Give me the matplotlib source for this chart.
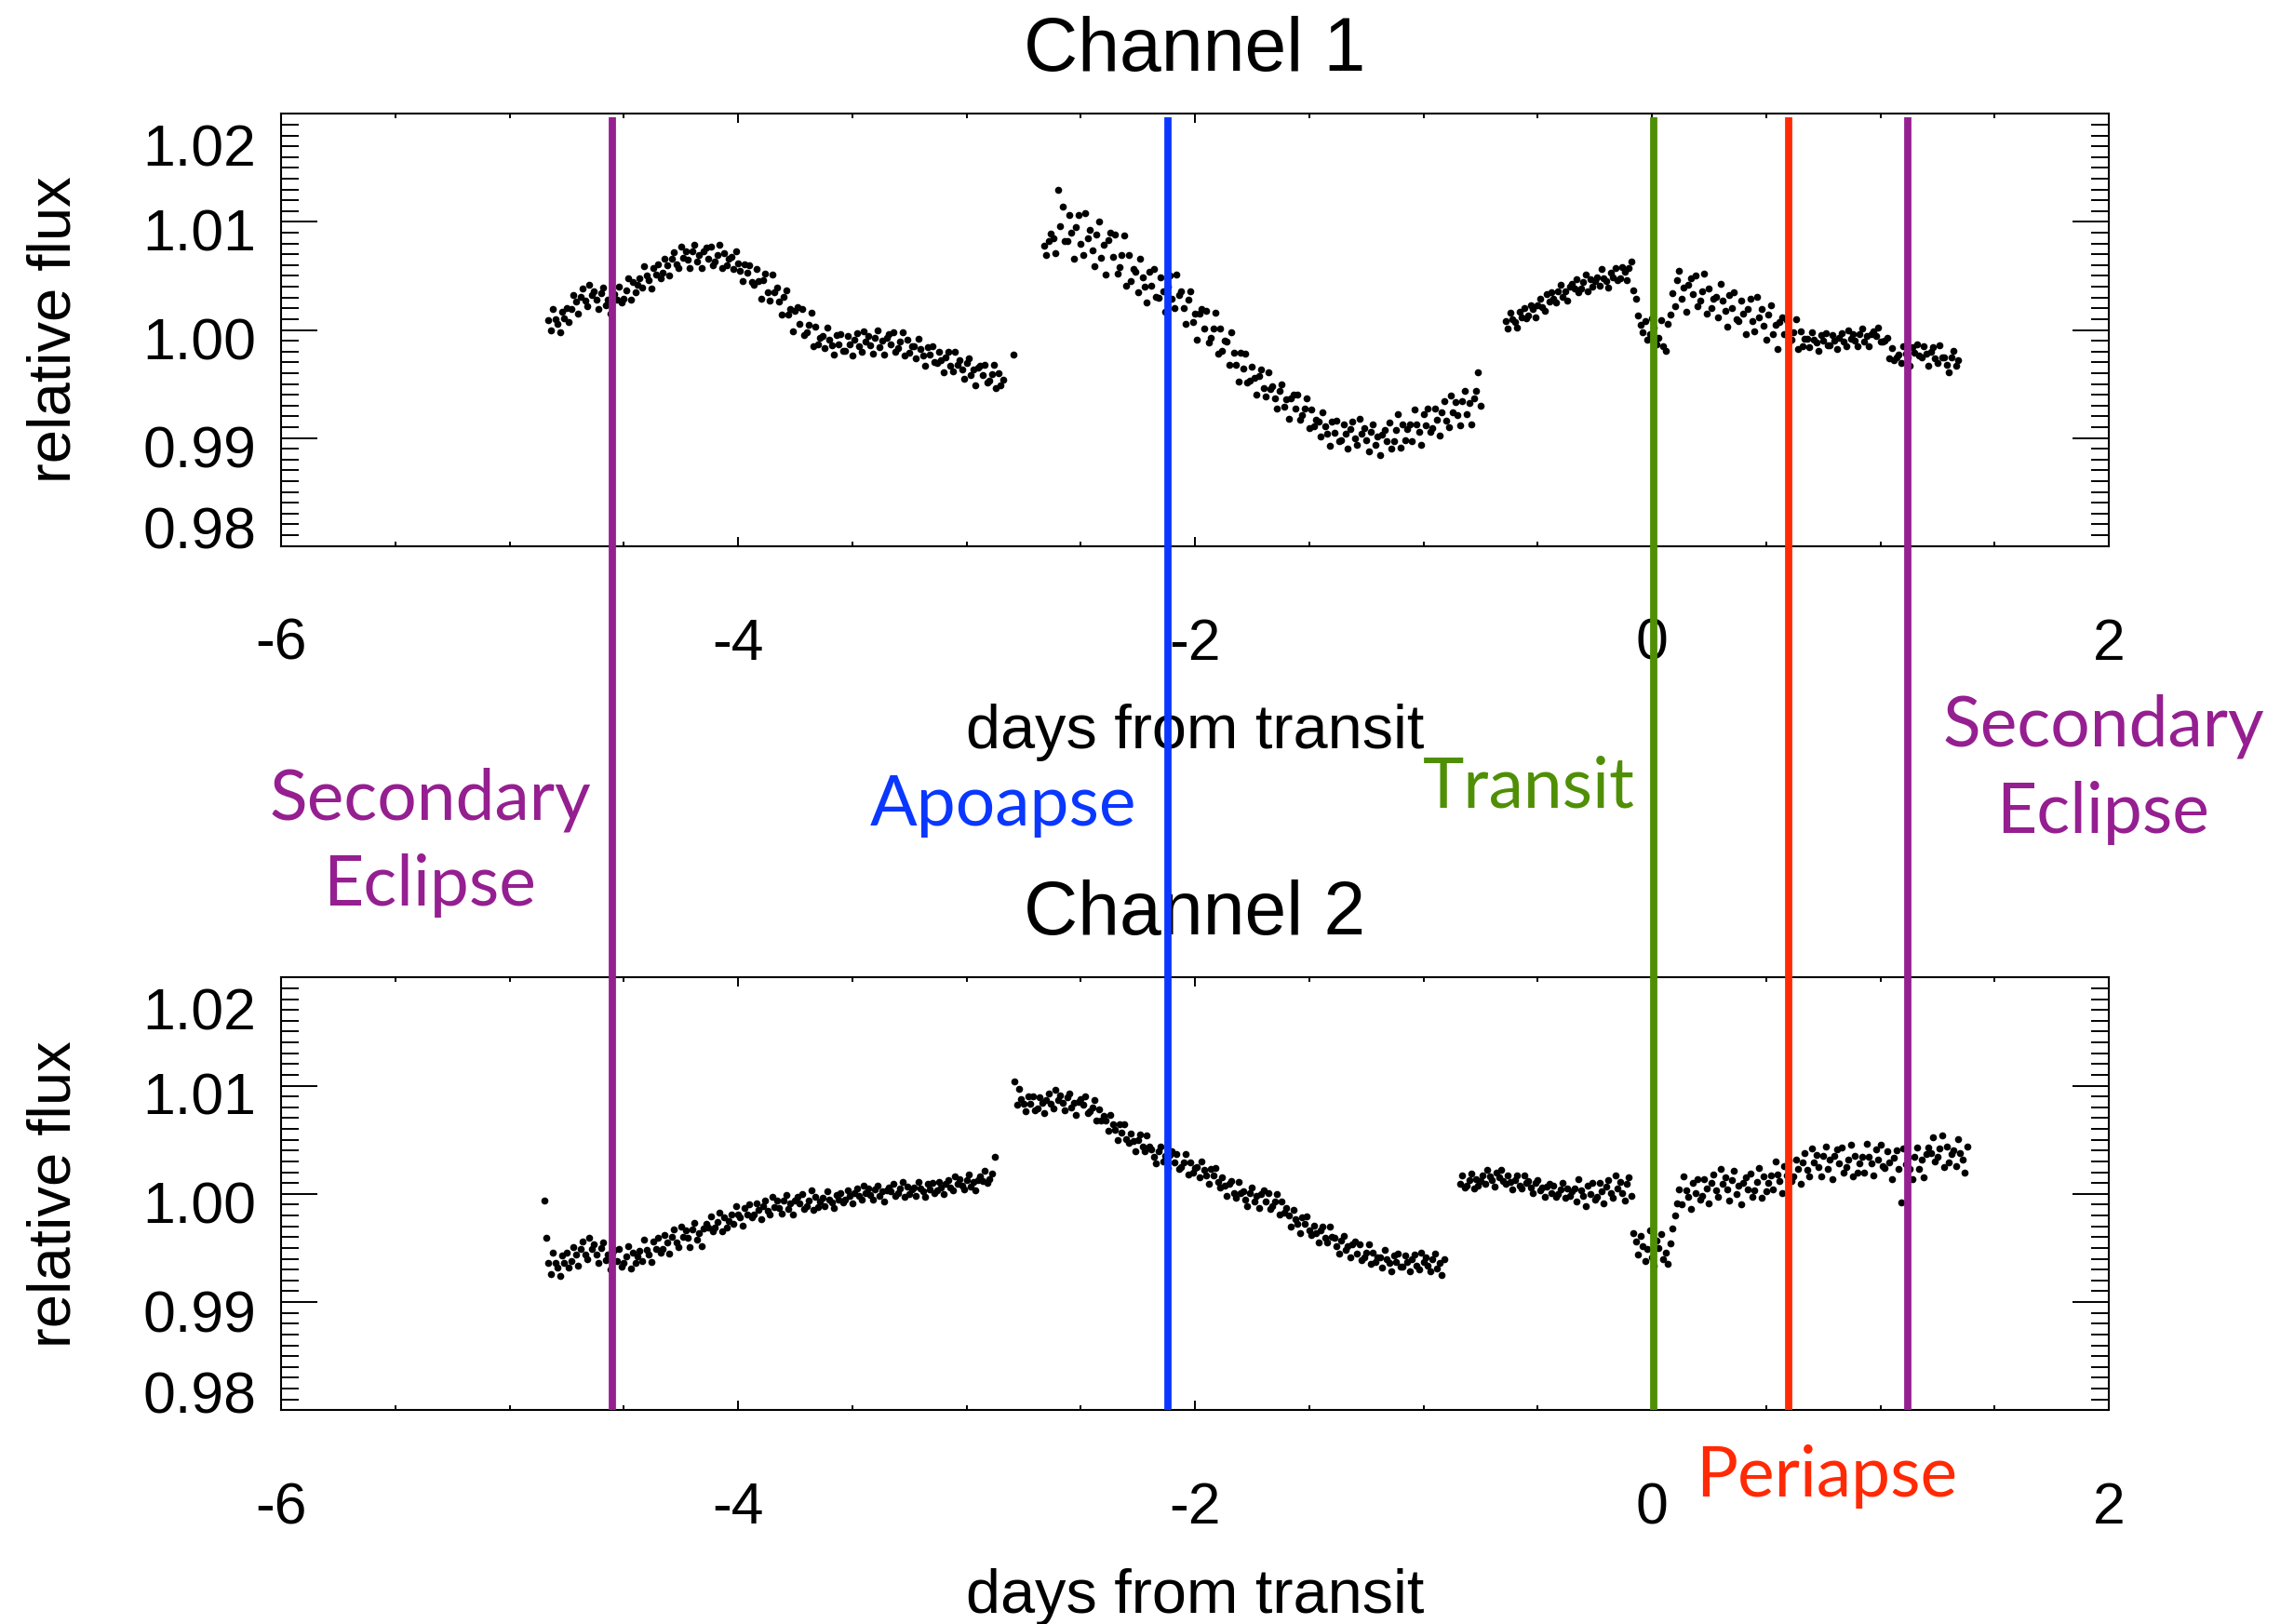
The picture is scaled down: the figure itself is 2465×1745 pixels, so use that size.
import numpy as np
import matplotlib.pyplot as plt
from matplotlib.ticker import MultipleLocator
from matplotlib.transforms import ScaledTranslation

plt.rcParams['font.family'] = ['Liberation Sans', 'DejaVu Sans']

# flux values in parts per thousand (ppt) around 1.0,
# one point every 0.01 day starting at each segment's start time
cadence = 0.01

# ---------------- Channel 1 ----------------
ch1_a_start = -4.83
ch1_a_ppt = [
    0.9, 0.0, 1.9, 1.0, 0.6, -0.2, 1.7, 1.1, 2.0, 0.7,
    1.9, 3.2, 2.6, 1.5, 3.1, 3.8, 2.7, 2.2, 4.2, 3.2,
    3.6, 2.8, 1.9, 3.4, 3.9, 2.3, 2.8, 1.5, 3.0, 3.3,
    2.8, 4.0, 2.5, 2.9, 3.7, 4.8, 2.8, 4.4, 3.5, 4.2,
    4.8, 3.9, 5.9, 5.0, 4.6, 3.8, 5.7, 5.1, 6.1, 4.8,
    5.3, 6.6, 6.0, 5.0, 6.6, 7.2, 6.1, 5.7, 7.7, 6.7,
    7.3, 6.5, 5.7, 7.3, 7.9, 6.3, 6.9, 5.7, 7.3, 7.6,
    6.6, 7.7, 6.0, 6.3, 6.9, 7.9, 5.7, 7.1, 6.0, 6.6,
    6.8, 5.6, 7.3, 6.2, 5.5, 4.5, 6.1, 5.3, 6.0, 4.4,
    4.2, 5.6, 4.5, 2.9, 4.6, 5.2, 3.5, 2.7, 5.1, 3.5,
    3.9, 2.6, 1.4, 3.1, 3.7, 1.4, 1.9, -0.1, 1.8, 2.1,
    0.6, 1.9, -0.5, -0.2, 0.5, 1.6, -1.5, 0.3, -1.3, -0.7,
    -0.6, -1.7, 0.2, -0.9, -1.4, -2.3, -0.5, -1.3, -0.4, -1.9,
    -1.9, -0.6, -1.3, -2.4, -0.9, -0.3, -1.5, -2.0, -0.1, -1.1,
    -0.6, -1.4, -2.2, -0.7, 0.0, -1.6, -1.0, -2.3, -0.7, -0.4,
    -1.3, -0.2, -2.0, -1.7, -1.1, -0.2, -2.4, -0.9, -2.1, -1.5,
    -1.5, -2.6, -0.8, -1.8, -2.4, -3.3, -1.6, -2.3, -1.5, -3.0,
    -3.1, -2.0, -2.8, -3.9, -2.5, -2.0, -3.3, -3.8, -2.0, -3.2,
    -2.8, -3.7, -4.5, -3.1, -2.6, -4.2, -3.7, -5.1, -3.5, -3.3,
    -4.2, -3.2, -4.9, -4.7, -4.1, -3.2, -5.4, -4.0, -5.1, -4.6,
]
ch1_b_start = -2.66
ch1_b_ppt = [
    7.8, 6.9, 8.2, 8.9, 8.5, 7.1, 13.0, 9.6, 11.4, 8.2,
    8.2, 10.6, 9.0, 6.6, 9.5, 10.6, 8.0, 6.9, 10.8, 8.5,
    9.3, 7.4, 5.9, 8.8, 10.0, 6.7, 7.9, 5.1, 8.3, 9.0,
    6.8, 8.8, 5.2, 5.8, 6.9, 8.7, 4.1, 6.9, 4.5, 5.6,
    5.4, 3.5, 6.6, 4.9, 4.0, 2.5, 5.4, 4.1, 5.6, 3.1,
    3.0, 4.9, 3.6, 1.7, 4.0, 5.0, 2.9, 2.0, 5.1, 3.2,
    3.6, 2.0, 0.6, 2.8, 3.6, 0.7, 1.5, -0.9, 1.5, 1.9,
    0.1, 1.8, -1.2, -0.7, 0.1, 1.6, -2.2, 0.1, -1.9, -1.0,
    -1.1, -3.2, -0.2, -2.1, -3.2, -4.8, -2.1, -3.6, -2.2, -4.9,
    -4.7, -3.4, -4.4, -6.0, -4.3, -3.7, -5.4, -6.2, -3.9, -5.5,
    -5.2, -6.3, -7.3, -5.6, -5.0, -7.1, -6.4, -8.2, -6.3, -6.0,
    -7.3, -6.0, -8.3, -7.9, -7.3, -6.3, -9.1, -7.4, -8.9, -8.3,
    -8.5, -9.9, -7.6, -8.9, -9.6, -10.7, -8.5, -9.5, -8.4, -10.3,
    -10.2, -8.7, -9.6, -11.0, -9.2, -8.5, -10.0, -10.6, -8.2, -9.6,
    -9.1, -10.2, -11.2, -9.4, -8.7, -10.6, -9.9, -11.6, -9.7, -9.3,
    -10.3, -8.6, -11.0, -10.3, -9.3, -7.8, -10.9, -8.7, -10.2, -9.2,
    -8.7, -10.3, -7.4, -8.7, -9.4, -10.6, -7.8, -8.8, -7.3, -9.4,
    -9.1, -7.3, -8.3, -9.8, -7.6, -6.6, -8.4, -9.0, -6.1, -7.6,
    -6.7, -7.9, -8.8, -6.6, -5.6, -7.8, -6.8, -8.7, -6.3, -5.6,
    -3.9, -7.0,
]
ch1_c_start = -0.64
ch1_c_ppt = [
    0.8, 0.1, 1.6, 1.0, 0.7, 0.2, 1.7, 1.2, 2.0, 1.1,
    1.3, 2.3, 1.9, 1.2, 2.3, 2.9, 2.1, 1.8, 3.3, 2.6,
    3.5, 2.9, 2.5, 3.6, 4.2, 3.1, 3.6, 2.7, 4.0, 4.3,
    3.8, 4.7, 3.5, 3.8, 4.4, 5.1, 3.6, 4.7, 4.0, 4.5,
    4.9, 4.1, 5.6, 4.8, 4.5, 3.9, 5.3, 4.9, 5.7, 4.6,
    4.8, 5.8, 5.4, 4.6, 5.7, 6.3,
]
ch1_t_start = -0.08
ch1_t_ppt = [3.7, 2.9, 1.3, 0.5, -0.2, 0.8, -0.9, -0.4, 1.1, 0.2,
             -1.3, -0.7, 0.9, -1.5, -1.9, 0.6]
ch1_d_start = 0.08
ch1_d_ppt = [
    1.4, 3.4, 2.2, 4.6, 5.5, 2.9, 3.9, 1.7, 4.2, 4.8,
    3.3, 5.0, 2.2, 2.7, 3.6, 5.2, 1.5, 3.8, 2.0, 2.9,
    3.1, 1.2, 4.3, 2.7, 1.8, 0.3, 3.2, 2.0, 3.5, 1.0,
    0.8, 2.7, 1.5, -0.4, 1.9, 2.9, 0.8, -0.1, 3.1, 1.2,
    1.9, 0.4, -0.9, 1.4, 2.3, -0.4, 0.5, -1.8, 0.7, 1.2,
    -0.4, 0.9, -1.2, -0.9, -0.2, 1.0, -1.8, -0.1, -1.5, -0.8,
    -0.8, -1.6, -0.2, -0.9, -1.2, -1.9, -0.5, -1.0, -0.3, -1.4,
    -1.4, -0.5, -1.0, -1.8, -0.7, -0.3, -1.1, -1.5, 0.0, -0.8,
    -0.4, -1.0, -1.5, -0.4, 0.1, -1.1, -0.6, -1.5, -0.4, -0.1,
    -0.6, 0.2, -1.1, -1.1, -1.0, -0.7, -2.6, -1.7, -2.8, -2.5,
    -2.3, -3.1, -1.5, -2.2, -2.5, -3.3, -1.6, -2.1, -1.3, -2.4,
    -2.5, -1.5, -2.2, -3.3, -2.0, -1.6, -2.6, -3.1, -1.4, -2.5,
    -2.5, -3.2, -3.9, -2.5, -1.9, -3.3, -2.8,
]
ch1_extra_t = [-2.795]
ch1_extra_ppt = [-2.3]

# ---------------- Channel 2 ----------------
ch2_a_start = -4.83
ch2_a_ppt = [
    -6.4, -7.4, -5.4, -6.4, -6.8, -7.6, -5.7, -6.4, -5.4, -6.8,
    -6.2, -4.9, -5.6, -6.6, -5.1, -4.4, -5.6, -6.0, -4.1, -5.1,
    -4.7, -5.6, -6.4, -5.0, -4.5, -6.1, -5.6, -7.0, -5.4, -5.2,
    -6.2, -5.1, -6.7, -6.4, -5.8, -4.8, -6.9, -5.4, -6.4, -5.8,
    -5.3, -6.2, -4.2, -5.2, -5.6, -6.3, -4.4, -5.1, -4.1, -5.4,
    -5.1, -3.8, -4.5, -5.5, -4.0, -3.3, -4.5, -4.9, -3.0, -4.0,
    -3.4, -4.1, -4.9, -3.3, -2.7, -4.2, -3.6, -4.8, -3.2, -2.8,
    -3.1, -2.1, -3.5, -3.1, -2.6, -1.7, -3.5, -2.2, -3.1, -2.5,
    -1.9, -2.8, -1.1, -1.9, -2.2, -2.9, -1.3, -1.9, -1.0, -2.2,
    -1.9, -0.9, -1.5, -2.3, -1.1, -0.6, -1.6, -1.9, -0.3, -1.2,
    -0.6, -1.3, -1.8, -0.6, -0.1, -1.4, -0.9, -1.9, -0.6, -0.3,
    -0.9, 0.0, -1.4, -1.1, -0.6, 0.3, -1.5, -0.3, -1.2, -0.7,
    -0.4, -1.1, 0.2, -0.5, -0.8, -1.3, -0.1, -0.5, 0.1, -0.8,
    -0.5, 0.3, -0.2, -0.9, 0.1, 0.5, -0.2, -0.5, 0.8, 0.1,
    0.5, -0.1, -0.5, 0.4, 0.8, -0.2, 0.2, -0.7, 0.3, 0.6,
    0.2, 0.9, -0.2, 0.1, 0.5, 1.1, -0.3, 0.7, 0.0, 0.4,
    0.6, -0.2, 1.1, 0.5, 0.2, -0.3, 0.9, 0.4, 1.0, 0.1,
    0.3, 1.1, 0.6, 0.0, 0.9, 1.3, 0.6, 0.3, 1.6, 0.9,
    1.4, 0.8, 0.4, 1.3, 1.8, 0.7, 1.1, 0.3, 1.3, 1.6,
    1.2, 2.1, 1.0, 1.4, 1.9,
]
ch2_b_start = -2.79
ch2_b_ppt = [
    10.4, 8.2, 9.7, 8.8, 8.3, 7.6, 9.0, 8.3, 9.0, 7.7,
    7.9, 8.9, 8.4, 7.5, 8.7, 9.3, 8.3, 7.9, 9.6, 8.7,
    9.1, 8.4, 7.7, 8.9, 9.3, 8.0, 8.4, 7.3, 8.5, 8.8,
    8.2, 9.0, 7.5, 7.6, 8.0, 8.7, 6.8, 7.8, 6.8, 7.2,
    6.8, 5.8, 7.3, 6.4, 5.9, 5.0, 6.4, 5.7, 6.4, 5.1,
    4.7, 5.6, 4.9, 3.9, 5.0, 5.5, 4.4, 3.9, 5.4, 4.4,
    4.1, 3.4, 2.8, 3.9, 4.4, 3.0, 3.5, 2.4, 3.6, 3.9,
    2.9, 3.7, 2.3, 2.5, 2.9, 3.7, 1.8, 2.9, 2.0, 2.4,
    2.5, 1.5, 3.0, 2.2, 1.7, 0.9, 2.3, 1.7, 2.4, 1.1,
    0.6, 1.5, 0.8, -0.2, 0.9, 1.2, 0.1, -0.4, 1.1, 0.1,
    0.2, -0.5, -1.1, 0.1, 0.6, -0.7, -0.2, -1.3, 0.0, 0.3,
    -0.7, 0.1, -1.4, -1.1, -0.7, 0.0, -1.9, -0.7, -1.7, -1.3,
    -2.0, -3.0, -1.5, -2.3, -2.8, -3.6, -2.2, -2.8, -2.1, -3.4,
    -3.8, -2.9, -3.6, -4.5, -3.4, -3.0, -4.1, -4.5, -3.0, -4.0,
    -4.1, -4.8, -5.5, -4.3, -3.9, -5.2, -4.8, -5.9, -4.7, -4.4,
    -5.5, -4.7, -6.1, -5.9, -5.4, -4.7, -6.5, -5.4, -6.3, -5.9,
    -5.9, -6.8, -5.2, -6.0, -6.4, -7.2, -5.7, -6.3, -5.5, -6.7,
    -6.7, -5.7, -6.3, -7.2, -6.0, -5.6, -6.6, -7.0, -5.4, -6.3,
    -5.9, -6.6, -7.2, -6.0, -5.5, -6.9, -6.4, -7.5, -6.0,
]
ch2_c_start = -0.84
ch2_c_ppt = [
    0.9, 1.7, 0.6, 0.8, 1.3, 1.9, 0.5, 1.4, 0.8, 1.2,
    1.7, 0.9, 2.2, 1.6, 1.3, 0.7, 2.0, 1.5, 2.2, 1.2,
    0.9, 1.7, 1.1, 0.4, 1.3, 1.7, 0.8, 0.5, 1.7, 1.0,
    1.2, 0.6, 0.1, 1.0, 1.3, 0.3, 0.6, -0.3, 0.7, 0.9,
    0.1, 0.8, -0.3, 0.0, 0.4, 1.0, -0.4, 0.5, -0.2, 0.2,
    0.5, -0.7, 1.4, 0.3, -0.2, -1.1, 0.8, 0.0, 1.0, -0.5,
    -0.3, 1.0, 0.2, -0.9, 0.7, 1.3, 0.1, -0.4, 1.7, 0.5,
    1.1, 0.1, -0.6, 0.9, 1.5, -0.2,
]
ch2_t_start = -0.08
ch2_t_ppt = [-3.6, -4.4, -5.6, -3.9, -4.8, -6.2, -5.1, -3.4, -5.9, -6.6,
             -4.3, -5.0, -3.7, -6.0, -5.4, -6.5, -4.6, -3.2, -2.0, -0.9]
ch2_d_start = 0.12
ch2_d_ppt = [
    0.4, -1.0, 1.6, 0.3, -0.3, -1.4, 1.0, 0.1, 1.4, -0.5,
    -0.2, 1.4, 0.5, -0.9, 1.0, 1.8, 0.3, -0.3, 2.3, 0.9,
    1.5, 0.4, -0.6, 1.3, 2.1, 0.0, 0.8, -1.0, 1.0, 1.5,
    0.4, 1.9, -0.3, 0.3, 1.1, 2.4, -0.4, 1.6, 0.2, 1.0,
    1.7, 0.4, 3.0, 1.8, 1.2, 0.1, 2.6, 1.7, 3.1, 1.2,
    1.6, 3.2, 2.3, 0.9, 2.9, 3.8, 2.2, 1.6, 4.2, 2.9,
    3.6, 2.5, 1.6, 3.5, 4.4, 2.3, 3.2, 1.4, 3.5, 4.1,
    2.8, 4.3, 2.0, 2.5, 3.2, 4.5, 1.6, 3.5, 2.0, 2.8,
    3.4, 2.0, 4.6, 3.4, 2.8, 1.7, 4.1, 3.2, 4.5, 2.6,
    2.4, 3.9, 2.9, 1.4, 3.3, 4.0, 2.3, -0.8, 4.2, 2.7,
    3.3, 2.3, 1.4, 3.4, 4.3, 2.3, 3.2, 1.5, 3.7, 4.3,
    3.8, 5.2, 3.0, 3.4, 4.2, 5.4, 2.5, 4.4, 2.9, 3.7,
    4.0, 2.6, 5.1, 3.8, 3.2, 2.0, 4.4,
]
ch2_extra_t = [-4.846, -4.838, -2.877]
ch2_extra_ppt = [-0.6, -4.1, 3.4]

# orbital events (days from transit)
event_days = [-4.55, -2.12, 0.01, 0.60, 1.12]
event_colors = ['#951f90', '#0a37ff', '#4f8f05', '#ff2a05', '#951f90']

xtick_vals = [-6, -4, -2, 0, 2]
xtick_labels = ['-6', '-4', '-2', '0', '2']
ytick_vals = [0.98, 0.99, 1.00, 1.01, 1.02]
ytick_labels = ['0.98', '0.99', '1.00', '1.01', '1.02']

channels = [
    ('Channel 1', [(ch1_a_start, ch1_a_ppt), (ch1_b_start, ch1_b_ppt),
                   (ch1_c_start, ch1_c_ppt), (ch1_t_start, ch1_t_ppt),
                   (ch1_d_start, ch1_d_ppt)], ch1_extra_t, ch1_extra_ppt),
    ('Channel 2', [(ch2_a_start, ch2_a_ppt), (ch2_b_start, ch2_b_ppt),
                   (ch2_c_start, ch2_c_ppt), (ch2_t_start, ch2_t_ppt),
                   (ch2_d_start, ch2_d_ppt)], ch2_extra_t, ch2_extra_ppt),
]

W, H = 2465, 1745
fig = plt.figure(figsize=(W / 100, H / 100), dpi=100)

# panel boxes in pixels: (top, bottom)
panel_px = [(122.3, 586.7), (1050.3, 1515.3)]
left_px, right_px = 302, 2266

# label offsets (px, downward) for the IDL-style y tick labels
ylab_shift = {0.98: -20, 0.99: 9, 1.00: 9, 1.01: 8, 1.02: 33}

for (title, segments, xt, xp), (top, bot) in zip(channels, panel_px):
    ax = fig.add_axes([left_px / W, 1 - bot / H, (right_px - left_px) / W, (bot - top) / H])
    for start, ppt in segments:
        t = start + cadence * np.arange(len(ppt))
        f = 1 + np.array(ppt) / 1000.0
        ax.plot(t, f, 'o', ms=5.5, mew=0, color='black')
    ax.plot(xt, 1 + np.array(xp) / 1000.0, 'o', ms=5.5, mew=0, color='black')

    ax.set_xlim(-6, 2)
    ax.set_ylim(0.98, 1.02)
    ax.set_xticks(xtick_vals, xtick_labels)
    ax.set_yticks(ytick_vals, ytick_labels)
    ax.xaxis.set_minor_locator(MultipleLocator(0.5))
    ax.yaxis.set_minor_locator(MultipleLocator(0.001))

    ax.tick_params(which='both', direction='in', top=True, right=True, width=1.4)
    ax.tick_params(axis='x', which='major', length=7.2, pad=54.7, labelsize=45)
    ax.tick_params(axis='x', which='minor', length=3.6)
    ax.tick_params(axis='y', which='major', length=28, pad=19.4, labelsize=45)
    ax.tick_params(axis='y', which='minor', length=13.7)
    for sp in ax.spines.values():
        sp.set_linewidth(1.5)

    for val, tick in zip(ytick_vals, ax.yaxis.get_major_ticks()):
        off = ScaledTranslation(0, -ylab_shift[val] / 100, fig.dpi_scale_trans)
        tick.label1.set_transform(tick.label1.get_transform() + off)

    ax.set_title(title, fontsize=58, pad=33.5)
    ax.set_ylabel('relative flux', fontsize=47)
    ax.yaxis.set_label_coords(-0.1085, 0.5)
    ax.set_xlabel('days from transit', fontsize=48)
    ax.xaxis.set_label_coords(0.5, -0.364)

# event lines run across both panels
ov = fig.add_axes([left_px / W, 1 - panel_px[1][1] / H, (right_px - left_px) / W,
                   (panel_px[1][1] - panel_px[0][0]) / H])
ov.set_xlim(-6, 2)
ov.set_ylim(0, 1)
ov.axis('off')
for d, c in zip(event_days, event_colors):
    ov.axvline(d, ymin=0, ymax=0.997, color=c, lw=5.6, solid_capstyle='butt')

# event labels: (text, colour, centre x px, baseline y px)
labels = [
    ('Secondary', event_colors[0], 462, 880),
    ('Eclipse', event_colors[0], 462, 973),
    ('Apoapse', event_colors[1], 1078, 887),
    ('Transit', event_colors[2], 1643, 868),
    ('Periapse', event_colors[3], 1963, 1608),
    ('Secondary', event_colors[4], 2260, 802),
    ('Eclipse', event_colors[4], 2260, 895),
]
for txt, c, x, y in labels:
    fig.text(x / W, 1 - y / H, txt, color=c, fontsize=54, ha='center', va='baseline',
             family=['Lato', 'DejaVu Sans'])

fig.savefig('out.png', dpi=100)
